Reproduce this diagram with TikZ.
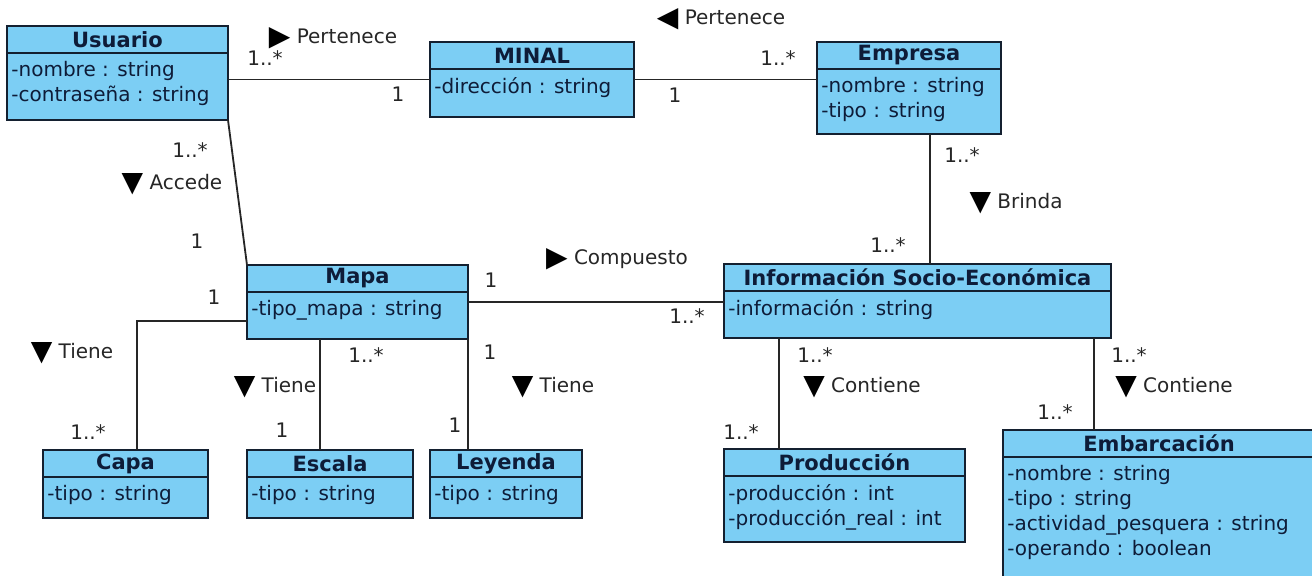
\documentclass[tikz,border=0pt]{standalone}
\usepackage{fontspec}
\setmainfont{DejaVu Sans}
\usetikzlibrary{calc}

\definecolor{classfill}{RGB}{124,206,244}
\definecolor{classdraw}{RGB}{20,32,48}
\definecolor{classtext}{RGB}{14,28,56}

% name, x, y, width, height, title, attributes (pixel units)
\newcommand{\umlclass}[7]{%
  \node[classbox, minimum width=#4*0.5pt, minimum height=#5*0.5pt] (#1) at (#2,#3) {};
  \draw[classdraw, line width=1pt] ([yshift=-13.5pt]#1.north west) -- ([yshift=-13.5pt]#1.north east);
  \node[classtitle] at ([yshift=-6.75pt]#1.north) {#6};
  \node[classattr] at ([yshift=-13.5pt]#1.north west) {#7};
}
% reading direction mark of an association
\newcommand{\dirmark}[1]{\raisebox{-0.1em}{\fontsize{14}{14}\selectfont\color{black}#1}}

\begin{document}
\begin{tikzpicture}[
            x=0.5pt, y=-0.5pt,
            font=\fontsize{10}{12.5}\selectfont,
            classbox/.style={draw=classdraw, fill=classfill, line width=1pt, anchor=north west, inner sep=0pt, outer sep=0pt},
            classtitle/.style={font=\fontsize{10.5}{12.5}\selectfont\bfseries, text=classtext, inner sep=0pt},
            classattr/.style={anchor=north west, align=left, text=classtext, inner xsep=2pt, inner ysep=3.8pt},
            assoc/.style={draw=black!85, line width=0.9pt},
            lbl/.style={text=black!85, inner sep=0pt},
        ]
        \fill[white] (0,0) rectangle (1312,575);
        \clip (0,0) rectangle (1312,575);
        % classes
        \umlclass{usuario}{7}{26}{221}{94}{Usuario}{-nombre : string\\-contraseña : string}
        \umlclass{minal}{430}{42}{204}{75}{MINAL}{-dirección : string}
        \umlclass{empresa}{817}{42}{184}{92}{Empresa}{-nombre : string\\-tipo : string}
        \umlclass{mapa}{247}{265}{221}{74}{Mapa}{-tipo\_mapa : string}
        \umlclass{info}{724}{264}{387}{74}{Información Socio-Económica}{-información : string}
        \umlclass{capa}{43}{450}{165}{68}{Capa}{-tipo : string}
        \umlclass{escala}{247}{450}{166}{68}{Escala}{-tipo : string}
        \umlclass{leyenda}{430}{450}{152}{68}{Leyenda}{-tipo : string}
        \umlclass{produccion}{724}{449}{241}{93}{Producción}{-producción : int\\-producción\_real : int}
        \umlclass{embarcacion}{1003}{430}{312}{160}{Embarcación}{-nombre : string\\-tipo : string\\-actividad\_pesquera : string\\-operando : boolean}

        % associations
        \coordinate (brinda) at ([xshift=10.5pt]empresa.south);
        \coordinate (tienecapa) at ([yshift=-9.5pt]mapa.west);
        \coordinate (tieneescala) at ([xshift=-5pt]escala.north);
        \coordinate (contprod) at ([xshift=27.5pt]info.south west);
        \coordinate (contemb) at ([xshift=-8.5pt]info.south east);
        \draw[assoc] (usuario.east |- minal.west) -- (minal.west);
        \draw[assoc] (minal.east) -- (minal.east -| empresa.west);
        \draw[assoc] (usuario.south east) -- (mapa.north west);
        \draw[assoc] (brinda) -- (brinda |- info.north);
        \draw[assoc] (mapa.east) -- (mapa.east -| info.west);
        \draw[assoc] (tienecapa) -| ([xshift=5.75pt]capa.north);
        \draw[assoc] (tieneescala) -- (tieneescala |- mapa.south);
        \draw[assoc] (mapa.south east) -- (mapa.south east |- leyenda.north);
        \draw[assoc] (contprod) -- (contprod |- produccion.north);
        \draw[assoc] (contemb) -- (contemb |- embarcacion.north);

        % roles and multiplicities
        \node[lbl] (l1) at (333,38) {\dirmark{▶} Pertenece};
        \node[lbl] (m1) at (265,58) {1..*};
        \node[lbl] (m2) at (398,94) {1};
        \node[lbl] (l2) at (721,19) {\dirmark{◀} Pertenece};
        \node[lbl] (m3) at (675,95) {1};
        \node[lbl] (m4) at (778,58) {1..*};
        \node[lbl] (m5) at (190,150) {1..*};
        \node[lbl] (l3) at (172,184) {\dirmark{▼} Accede};
        \node[lbl] (m6) at (197,241) {1};
        \node[lbl] (m7) at (962,155) {1..*};
        \node[lbl] (l4) at (1016,203) {\dirmark{▼} Brinda};
        \node[lbl] (m8) at (888,245) {1..*};
        \node[lbl] (m9) at (491,280) {1};
        \node[lbl] (l5) at (617,259) {\dirmark{▶} Compuesto};
        \node[lbl] (m10) at (687,316) {1..*};
        \node[lbl] (m11) at (214,297) {1};
        \node[lbl] (l6) at (72,353) {\dirmark{▼} Tiene};
        \node[lbl] (m12) at (88,432) {1..*};
        \node[lbl] (m13) at (366,355) {1..*};
        \node[lbl] (l7) at (275,387) {\dirmark{▼} Tiene};
        \node[lbl] (m14) at (282,430) {1};
        \node[lbl] (m15) at (490,352) {1};
        \node[lbl] (l8) at (553,387) {\dirmark{▼} Tiene};
        \node[lbl] (m16) at (455,425) {1};
        \node[lbl] (m17) at (815,355) {1..*};
        \node[lbl] (l9) at (862,387) {\dirmark{▼} Contiene};
        \node[lbl] (m18) at (741,432) {1..*};
        \node[lbl] (m19) at (1129,355) {1..*};
        \node[lbl] (l10) at (1174,387) {\dirmark{▼} Contiene};
        \node[lbl] (m20) at (1055,412) {1..*};
\end{tikzpicture}
\end{document}
